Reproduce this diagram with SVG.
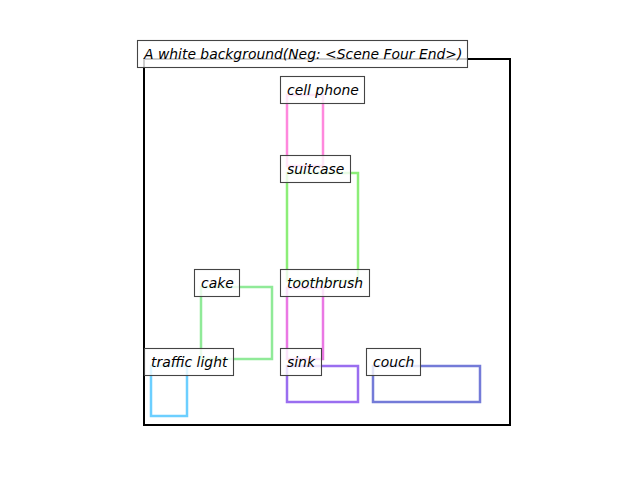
<svg xmlns="http://www.w3.org/2000/svg" width="640" height="480" viewBox="0 0 640 480">
<style>
.bb{fill:none;stroke-width:2.5}
.lb rect{fill:#fff;fill-opacity:0.8;stroke:#444;stroke-width:1.1}
.lb text{font-family:"DejaVu Sans",sans-serif;font-style:oblique;font-size:13.9px;fill:#000}
</style>
<rect width="640" height="480" fill="#fff"/>
<g id="connectors">
<rect class="bb" x="287" y="95" width="36" height="71" stroke="#ff88dd"/>
<rect class="bb" x="287" y="173" width="71" height="108" stroke="#8cee78"/>
<rect class="bb" x="201" y="287" width="71" height="72" stroke="#90ea98"/>
<rect class="bb" x="287" y="288" width="36" height="71" stroke="#ea78e4"/>
<rect class="bb" x="151" y="366" width="36" height="50" stroke="#6ccfff"/>
<rect class="bb" x="287" y="366" width="71" height="36" stroke="#9a6ef0"/>
<rect class="bb" x="373" y="366" width="107" height="36" stroke="#747bd8"/>
</g>
<rect x="144" y="59" width="366" height="366" fill="none" stroke="#000" stroke-width="2"/>
<g id="title" class="lb"><rect x="137.5" y="40.5" width="330" height="27"/><text x="144" y="59">A white background(Neg: &lt;Scene Four End&gt;)</text></g>
<g id="cell-phone" class="lb"><rect x="280.5" y="76.5" width="84" height="27"/><text x="287" y="95">cell phone</text></g>
<g id="suitcase" class="lb"><rect x="280.5" y="155.5" width="70" height="27"/><text x="287" y="174">suitcase</text></g>
<g id="cake" class="lb"><rect x="194.5" y="269.5" width="45" height="27"/><text x="201" y="288">cake</text></g>
<g id="toothbrush" class="lb"><rect x="280.5" y="269.5" width="89" height="27"/><text x="287" y="288">toothbrush</text></g>
<g id="traffic-light" class="lb"><rect x="144.5" y="348.5" width="89" height="27"/><text x="151" y="367">traffic light</text></g>
<g id="sink" class="lb"><rect x="280.5" y="348.5" width="41" height="27"/><text x="287" y="367">sink</text></g>
<g id="couch" class="lb"><rect x="366.5" y="348.5" width="54" height="27"/><text x="373" y="367">couch</text></g>
</svg>
